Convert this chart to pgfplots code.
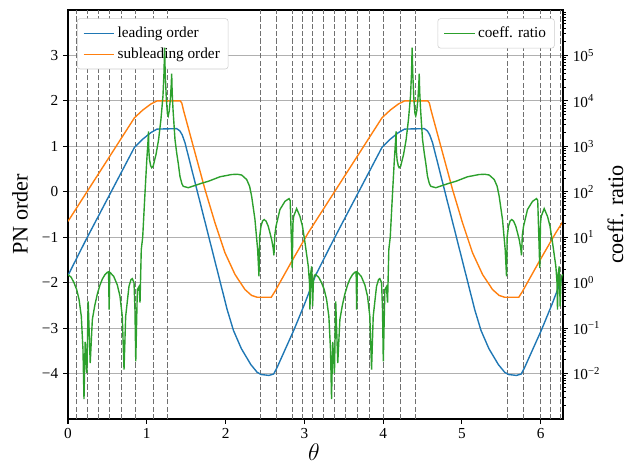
\documentclass[border=0pt]{standalone}
\usepackage{fontspec}
\setmainfont{Liberation Serif}
\usepackage{pgfplots}
\pgfplotsset{compat=1.18}
\definecolor{tabblue}{HTML}{1F77B4}
\definecolor{taborange}{HTML}{FF7F0E}
\definecolor{tabgreen}{HTML}{2CA02C}
\definecolor{gridgray}{HTML}{B0B0B0}
\definecolor{legedge}{HTML}{CCCCCC}
\definecolor{vgray}{HTML}{707070}
\pgfplotsset{
  common/.style={
    scale only axis, width=356.4pt, height=294.5pt,
    xmin=0, xmax=6.2832,
    tick align=outside, major tick length=3.5pt, minor tick length=2pt,
    major tick style={black, line width=0.8pt},
    minor tick style={black, line width=0.6pt},
    axis line style={line width=0.8pt},
    tick label style={font=\fontsize{11}{13}\selectfont},
    label style={font=\fontsize{16}{19}\selectfont},
    /pgf/number format/assume math mode=true,
    legend style={draw=legedge, fill=white, rounded corners=2pt,
      font=\fontsize{11}{13}\selectfont, row sep=2pt, inner sep=4pt},
    legend cell align=left,
    legend image code/.code={\fill[white] (0pt,0pt) rectangle (0.01pt,0.01pt);\draw[##1] (0pt,0pt) -- (22pt,0pt);},
  }
}
\begin{document}
\begin{tikzpicture}
\begin{axis}[common,
  ymin=-5, ymax=4,
  ytick={-4,-3,-2,-1,0,1,2,3}, yticklabels={−4,−3,−2,−1,0,1,2,3},
  xtick={0,1,2,3,4,5,6}, xticklabels={0,1,2,3,4,5,6},
  tick pos=left,
  ymajorgrids, major grid style={gridgray, line width=0.8pt},
  xlabel={$\theta$}, ylabel={PN order},
  xlabel style={at={(axis description cs:0.497,0)}, anchor=north, yshift=-14pt},
  ylabel style={at={(axis description cs:-0.097,0.5)}, anchor=center},
  legend style={at={(0,1)}, anchor=north west, xshift=6.5pt, yshift=-6pt},
]
\pgfplotsinvokeforeach{0.106,0.241,0.381,0.529,0.685,0.859,1.083,1.269,2.437,2.644,2.851,2.982,3.105,3.248,3.383,3.523,3.671,3.827,4.001,4.225,4.411,5.579,5.786,5.993,6.124,6.247}{
  \addplot[vgray, line width=0.7pt, dash pattern=on 3.7pt off 1.6pt, forget plot] coordinates {(#1,-5) (#1,4)};
}
\addplot[tabblue, line width=1pt] coordinates {
(0.000,-1.84) (0.230,-1.05) (0.844,0.98) (0.95,1.16) (1.05,1.30) (1.13,1.38) (1.38,1.39) (1.42,1.34) (1.45,1.25) (1.485,1.08) (2.02,-2.59) (2.10,-3.05) (2.20,-3.45) (2.32,-3.80) (2.40,-3.97) (2.45,-4.02) (2.55,-4.04) (2.61,-4.01) (2.65,-3.88) (2.87,-3.03) (3.00,-2.48)
(3.142,-1.84) (3.372,-1.05) (3.986,0.98) (4.092,1.16) (4.192,1.30) (4.272,1.38) (4.522,1.39) (4.562,1.34) (4.592,1.25) (4.627,1.08) (5.162,-2.59) (5.242,-3.05) (5.342,-3.45) (5.462,-3.80) (5.542,-3.97) (5.592,-4.02) (5.692,-4.04) (5.752,-4.01) (5.792,-3.88) (6.012,-3.03) (6.142,-2.48) (6.2832,-1.84)
};
\addlegendentry{leading order}
\addplot[taborange, line width=1pt] coordinates {
(0.000,-0.65) (0.844,1.63) (0.95,1.80) (1.05,1.93) (1.13,2.00) (1.425,2.00) (1.445,1.95) (1.465,1.80) (1.612,0.86) (1.739,0.05) (1.865,-0.68) (1.992,-1.34) (2.12,-1.82) (2.246,-2.15) (2.33,-2.28) (2.40,-2.32) (2.58,-2.32) (2.627,-2.19) (2.84,-1.53) (3.05,-0.90)
(3.142,-0.65) (3.986,1.63) (4.092,1.80) (4.192,1.93) (4.272,2.00) (4.567,2.00) (4.587,1.95) (4.607,1.80) (4.754,0.86) (4.881,0.05) (5.007,-0.68) (5.134,-1.34) (5.262,-1.82) (5.388,-2.15) (5.472,-2.28) (5.542,-2.32) (5.722,-2.32) (5.769,-2.19) (5.982,-1.53) (6.192,-0.90) (6.2832,-0.65)
};
\addlegendentry{subleading order}
\end{axis}
\begin{axis}[common,
  ymode=log, ymin=1e-3, ymax=1e6,
  axis y line*=right, axis x line=none,
  ytick={1e-2,1e-1,1,1e1,1e2,1e3,1e4,1e5},
  yticklabels={10\textsuperscript{−2},10\textsuperscript{−1},10\textsuperscript{0},10\textsuperscript{1},10\textsuperscript{2},10\textsuperscript{3},10\textsuperscript{4},10\textsuperscript{5}},
  minor ytick={2e-3,3e-3,4e-3,5e-3,6e-3,7e-3,8e-3,9e-3,2e-2,3e-2,4e-2,5e-2,6e-2,7e-2,8e-2,9e-2,0.2,0.3,0.4,0.5,0.6,0.7,0.8,0.9,2,3,4,5,6,7,8,9,20,30,40,50,60,70,80,90,200,300,400,500,600,700,800,900,2e3,3e3,4e3,5e3,6e3,7e3,8e3,9e3,2e4,3e4,4e4,5e4,6e4,7e4,8e4,9e4,2e5,3e5,4e5,5e5,6e5,7e5,8e5,9e5},
  ylabel={coeff. ratio},
  ylabel style={at={(axis description cs:1.106,0.5)}, anchor=center},
  legend style={at={(1,1)}, anchor=north east, xshift=-6pt, yshift=-6pt},
]
\addplot[tabgreen, line width=1pt] coordinates {
(0.000,1.514) (0.040,1.318) (0.076,1.0) (0.110,0.708) (0.140,0.427) (0.169,0.182) (0.190,0.0339) (0.203,0.00275) (0.218,0.0501) (0.240,0.0102) (0.256,0.389) (0.282,0.0170) (0.309,0.155) (0.340,0.316) (0.372,0.562) (0.406,0.891) (0.436,1.202) (0.470,1.514) (0.499,1.698) (0.515,1.738) (0.522,0.257) (0.530,1.698) (0.542,1.622) (0.580,1.380) (0.626,0.891) (0.660,0.501) (0.689,0.182) (0.711,0.0123) (0.732,0.182) (0.774,0.832) (0.800,1.175) (0.816,1.230) (0.838,1.0) (0.850,0.251) (0.860,0.0186) (0.880,0.708) (0.900,0.813) (0.914,0.363) (0.930,5.37) (0.948,10) (0.975,79.4) (1.000,501) (1.015,1259) (1.022,2138) (1.026,794) (1.035,501) (1.050,372) (1.062,339) (1.080,363) (1.117,661) (1.150,1413) (1.180,3981) (1.205,12590) (1.218,39810) (1.226,147900) (1.234,39810) (1.248,11220) (1.262,5248) (1.272,4677) (1.285,6026) (1.300,11220) (1.310,22390) (1.316,39810) (1.322,15850) (1.333,6457) (1.358,1413) (1.380,708) (1.400,417) (1.421,219) (1.445,151) (1.463,132) (1.527,123) (1.612,138) (1.700,155) (1.780,170) (1.929,214) (2.077,240) (2.150,243) (2.204,234) (2.268,186) (2.305,132) (2.331,79.4) (2.373,24.5) (2.407,5.37) (2.424,1.38) (2.432,10) (2.449,17.4) (2.470,22.9) (2.491,24.5) (2.515,22.4) (2.542,17.4) (2.585,8.91) (2.605,5.62) (2.614,3.98) (2.625,11.2) (2.640,17.4) (2.690,40.7) (2.754,61.7) (2.805,70.8) (2.820,64.6) (2.846,2.09) (2.855,20.0) (2.864,28.8) (2.902,42.7) (2.944,28.8) (2.975,17.8) (3.008,7.59) (3.050,2.29) (3.065,1.0) (3.071,0.257) (3.080,1.585) (3.093,2.29) (3.105,0.302) (3.115,1.122) (3.128,1.445)
(3.142,1.514) (3.182,1.318) (3.218,1.0) (3.252,0.708) (3.282,0.427) (3.311,0.182) (3.332,0.0339) (3.345,0.00275) (3.360,0.0501) (3.382,0.0102) (3.398,0.389) (3.424,0.0170) (3.451,0.155) (3.482,0.316) (3.514,0.562) (3.548,0.891) (3.578,1.202) (3.612,1.514) (3.641,1.698) (3.657,1.738) (3.664,0.257) (3.672,1.698) (3.684,1.622) (3.722,1.380) (3.768,0.891) (3.802,0.501) (3.831,0.182) (3.853,0.0123) (3.874,0.182) (3.916,0.832) (3.942,1.175) (3.958,1.230) (3.980,1.0) (3.992,0.251) (4.002,0.0186) (4.022,0.708) (4.042,0.813) (4.056,0.363) (4.072,5.37) (4.090,10) (4.117,79.4) (4.142,501) (4.157,1259) (4.164,2138) (4.168,794) (4.177,501) (4.192,372) (4.204,339) (4.222,363) (4.259,661) (4.292,1413) (4.322,3981) (4.347,12590) (4.360,39810) (4.368,147900) (4.376,39810) (4.390,11220) (4.404,5248) (4.414,4677) (4.427,6026) (4.442,11220) (4.452,22390) (4.458,39810) (4.464,15850) (4.475,6457) (4.500,1413) (4.522,708) (4.542,417) (4.563,219) (4.587,151) (4.605,132) (4.669,123) (4.754,138) (4.842,155) (4.922,170) (5.071,214) (5.219,240) (5.292,243) (5.346,234) (5.410,186) (5.447,132) (5.473,79.4) (5.515,24.5) (5.549,5.37) (5.566,1.38) (5.574,10) (5.591,17.4) (5.612,22.9) (5.633,24.5) (5.657,22.4) (5.684,17.4) (5.727,8.91) (5.747,5.62) (5.756,3.98) (5.767,11.2) (5.782,17.4) (5.832,40.7) (5.896,61.7) (5.947,70.8) (5.962,64.6) (5.988,2.09) (5.997,20.0) (6.006,28.8) (6.044,42.7) (6.086,28.8) (6.117,17.8) (6.150,7.59) (6.192,2.29) (6.207,1.0) (6.213,0.257) (6.222,1.585) (6.235,2.29) (6.247,0.302) (6.257,1.122) (6.270,1.445) (6.2832,1.514)
};
\addlegendentry{coeff. ratio}
\end{axis}
\pgfresetboundingbox
\useasboundingbox (-48.96pt,-32.4pt) rectangle (403.9pt,301.7pt);
\end{tikzpicture}
\end{document}
